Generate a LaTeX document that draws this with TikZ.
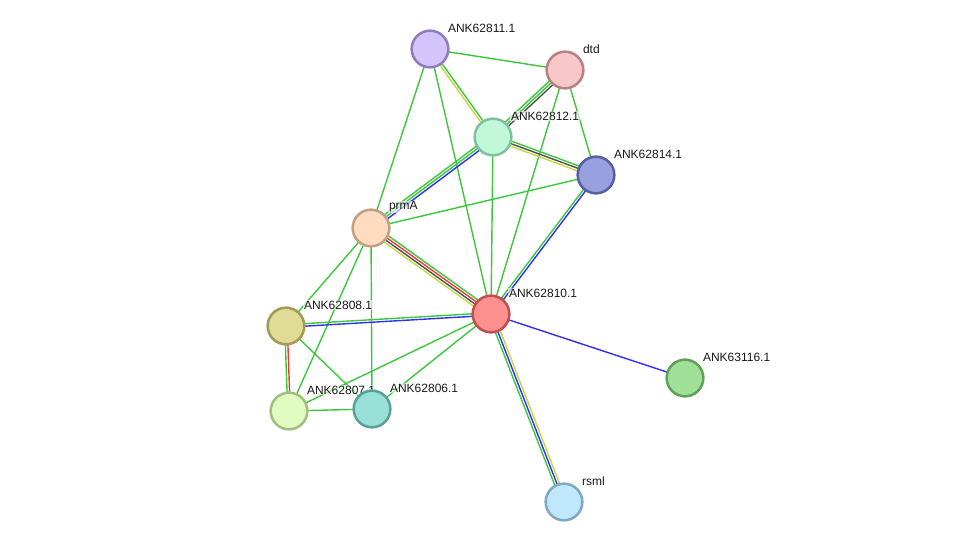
\documentclass[tikz,border=0pt]{standalone}
\usepackage{fontspec}
\setmainfont{Liberation Sans}
\usetikzlibrary{calc}
\pgfdeclarelayer{edges}
\pgfdeclarelayer{labels}
\pgfsetlayers{edges,labels,main}
% evidence colours
\definecolor{lgreen}{HTML}{3CC83C}
\definecolor{lblue}{HTML}{3030F0}
\definecolor{lred}{HTML}{F03838}
\definecolor{lgray}{HTML}{505050}
\definecolor{lyellow}{HTML}{C4D840}
\tikzset{
  protein/.style={circle, draw, line width=1.9pt, minimum size=27.5pt, inner sep=0pt},
  plabel/.style={anchor=west, font=\fontsize{9}{10}\selectfont, text=black!90,
    fill=white, fill opacity=0.6, text opacity=1, inner sep=0.6pt},
  edge/.style={line width=1.05pt},
}
% one strand of a link, shifted sideways by #3
\newcommand{\link}[4]{%
  \draw[edge,#4] ($(#1)!#3!90:(#2)$) -- ($(#2)!#3!-90:(#1)$);}
\begin{document}
\begin{tikzpicture}[x=0.75pt, y=-0.75pt]
    \useasboundingbox (0,0) rectangle (975,548);
    % Proteins
    \node[protein, fill={rgb,255:red,212;green,196;blue,252}, draw={rgb,255:red,144;green,124;blue,192}] (k62811) at (430,49) {};
    \node[protein, fill={rgb,255:red,248;green,200;blue,200}, draw={rgb,255:red,184;green,128;blue,128}] (dtd) at (565,70) {};
    \node[protein, fill={rgb,255:red,192;green,248;blue,216}, draw={rgb,255:red,128;green,192;blue,160}] (k62812) at (493,137) {};
    \node[protein, fill={rgb,255:red,152;green,160;blue,224}, draw={rgb,255:red,88;green,96;blue,160}] (k62814) at (596,175) {};
    \node[protein, fill={rgb,255:red,255;green,220;blue,192}, draw={rgb,255:red,192;green,160;blue,128}] (prmA) at (371,228) {};
    \node[protein, fill={rgb,255:red,255;green,144;blue,144}, draw={rgb,255:red,192;green,80;blue,80}] (k62810) at (491,314) {};
    \node[protein, fill={rgb,255:red,224;green,220;blue,152}, draw={rgb,255:red,160;green,156;blue,88}] (k62808) at (286,326) {};
    \node[protein, fill={rgb,255:red,160;green,224;blue,152}, draw={rgb,255:red,96;green,160;blue,88}] (k63116) at (685,378) {};
    \node[protein, fill={rgb,255:red,224;green,252;blue,192}, draw={rgb,255:red,160;green,192;blue,128}] (k62807) at (289,411) {};
    \node[protein, fill={rgb,255:red,152;green,224;blue,216}, draw={rgb,255:red,88;green,160;blue,152}] (k62806) at (372,409) {};
    \node[protein, fill={rgb,255:red,192;green,232;blue,252}, draw={rgb,255:red,128;green,168;blue,192}] (rsml) at (564,502) {};
    % Labels
    \begin{pgfonlayer}{labels}
    \node[plabel] (l62811) at ($(k62811)+(17,-21)$) {ANK62811.1};
    \node[plabel] (ldtd) at ($(dtd)+(17,-21)$) {dtd};
    \node[plabel] (l62812) at ($(k62812)+(17,-21)$) {ANK62812.1};
    \node[plabel] (l62814) at ($(k62814)+(17,-21)$) {ANK62814.1};
    \node[plabel] (lprmA) at ($(prmA)+(17,-21)$) {prmA};
    \node[plabel] (l62810) at ($(k62810)+(17,-21)$) {ANK62810.1};
    \node[plabel] (l62808) at ($(k62808)+(17,-21)$) {ANK62808.1};
    \node[plabel] (l63116) at ($(k63116)+(17,-21)$) {ANK63116.1};
    \node[plabel] (l62807) at ($(k62807)+(17,-21)$) {ANK62807.1};
    \node[plabel] (l62806) at ($(k62806)+(17,-21)$) {ANK62806.1};
    \node[plabel] (lrsml) at ($(rsml)+(17,-21)$) {rsml};
    \end{pgfonlayer}
    % Links
    \begin{pgfonlayer}{edges}
    \link{k62811}{dtd}{0pt}{lgreen}
    \link{k62811}{k62812}{0.95pt}{lgreen}
    \link{k62811}{k62812}{-0.95pt}{lyellow}
    \link{k62811}{prmA}{0pt}{lgreen}
    \link{k62811}{k62810}{0pt}{lgreen}
    \link{dtd}{k62812}{1.9pt}{lgray}
    \link{dtd}{k62812}{0pt}{lgreen}
    \link{dtd}{k62812}{-1.9pt}{lgreen}
    \link{dtd}{k62814}{0pt}{lgreen}
    \link{dtd}{k62810}{0pt}{lgreen}
    \link{k62812}{k62814}{1.9pt}{lgreen}
    \link{k62812}{k62814}{0pt}{lgray}
    \link{k62812}{k62814}{-1.9pt}{lyellow}
    \link{k62812}{prmA}{1.9pt}{lblue}
    \link{k62812}{prmA}{0pt}{lgreen}
    \link{k62812}{prmA}{-1.9pt}{lgreen}
    \link{k62812}{k62810}{0pt}{lgreen}
    \link{k62814}{prmA}{0pt}{lgreen}
    \link{k62814}{k62810}{0.95pt}{lblue}
    \link{k62814}{k62810}{-0.95pt}{lgreen}
    \link{prmA}{k62810}{2.85pt}{lgreen}
    \link{prmA}{k62810}{0.95pt}{lred}
    \link{prmA}{k62810}{-0.95pt}{lgray}
    \link{prmA}{k62810}{-2.85pt}{lyellow}
    \link{prmA}{k62808}{0pt}{lgreen}
    \link{prmA}{k62807}{0pt}{lgreen}
    \link{prmA}{k62806}{0pt}{lgreen}
    \link{k62810}{k62808}{0.95pt}{lblue}
    \link{k62810}{k62808}{-0.95pt}{lgreen}
    \link{k62810}{k62807}{0pt}{lgreen}
    \link{k62810}{k62806}{0pt}{lgreen}
    \link{k62810}{k63116}{0pt}{lblue}
    \link{k62810}{rsml}{1.9pt}{lyellow}
    \link{k62810}{rsml}{0pt}{lblue}
    \link{k62810}{rsml}{-1.9pt}{lgreen}
    \link{k62808}{k62807}{0.95pt}{lred}
    \link{k62808}{k62807}{-0.95pt}{lgreen}
    \link{k62808}{k62806}{0pt}{lgreen}
    \link{k62807}{k62806}{0pt}{lgreen}
    \end{pgfonlayer}
\end{tikzpicture}
\end{document}
